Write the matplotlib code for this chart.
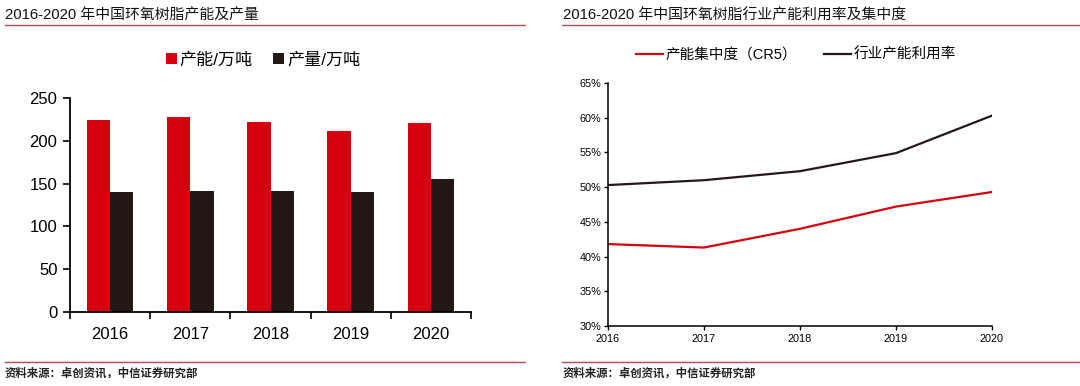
import matplotlib
matplotlib.use("Agg")
import matplotlib.pyplot as plt
from matplotlib.lines import Line2D
from matplotlib.patches import Patch
from matplotlib.ticker import FuncFormatter
import numpy as np

plt.rcParams['font.family'] = ['Liberation Sans', 'Noto Sans CJK SC', 'DejaVu Sans']

# ---- data ----
years = ['2016', '2017', '2018', '2019', '2020']
capacity = [224.5, 227.8, 222.0, 211.4, 220.4]      # 产能/万吨
output = [140.2, 141.4, 141.4, 140.2, 155.0]        # 产量/万吨

line_years = [2016, 2017, 2018, 2019, 2020]
cr5 = [41.8, 41.3, 44.0, 47.2, 49.3]                # 产能集中度（CR5） %
utilization = [50.3, 51.0, 52.3, 54.9, 60.3]        # 行业产能利用率 %

title_left = '2016-2020 年中国环氧树脂产能及产量'
title_right = '2016-2020 年中国环氧树脂行业产能利用率及集中度'
source = '资料来源：卓创资讯，中信证券研究部'
leg_left = ['产能/万吨', '产量/万吨']
leg_right = ['产能集中度（CR5）', '行业产能利用率']

RED = '#D7000F'
DARK = '#231815'
RULE = '#B5495B'

W, H = 1080, 386
fig = plt.figure(figsize=(W / 100, H / 100), dpi=100)

def fx(px):
    return px / W

def fy(py):
    return 1 - py / H

# ---- titles and rules ----
fig.text(fx(5), fy(16), title_left, fontsize=10.7, va='center', ha='left', color='#111111')
fig.text(fx(563), fy(16), title_right, fontsize=10.7, va='center', ha='left', color='#111111')
for x0, x1 in [(5, 525), (562, 1080)]:
    fig.add_artist(Line2D([fx(x0), fx(x1)], [fy(24.5), fy(24.5)], color=RULE, lw=1.0))
    fig.add_artist(Line2D([fx(x0), fx(x1)], [fy(362), fy(362)], color=RULE, lw=1.0))
fig.text(fx(5), fy(373), source, fontsize=8.2, va='center', ha='left', color='#222222', fontweight='bold')
fig.text(fx(563), fy(373), source, fontsize=8.2, va='center', ha='left', color='#222222', fontweight='bold')

# ---- left: bar chart ----
ax1 = fig.add_axes([fx(70), fy(312), fx(471) - fx(70), fy(98) - fy(312)])
x = np.arange(len(years))
bw = 0.29
ax1.bar(x - bw / 2, capacity, bw, color=RED, label=leg_left[0])
ax1.bar(x + bw / 2, output, bw, color=DARK, label=leg_left[1])
ax1.set_xlim(-0.5, len(years) - 0.5)
ax1.set_ylim(0, 250)
ax1.set_yticks([0, 50, 100, 150, 200, 250])
ax1.set_xticks(np.arange(-0.5, len(years), 1.0))
ax1.set_xticklabels([])
ax1.set_xticks(x, minor=True)
ax1.set_xticklabels(years, minor=True)
ax1.tick_params(axis='x', which='major', direction='out', length=5, width=1.2, color='black')
ax1.tick_params(axis='x', which='minor', length=0, labelsize=12, pad=11)
ax1.tick_params(axis='y', direction='out', length=5, width=1.2, labelsize=12, pad=4)
for s in ['top', 'right']:
    ax1.spines[s].set_visible(False)
for s in ['left', 'bottom']:
    ax1.spines[s].set_linewidth(1.3)
    ax1.spines[s].set_color('black')

handles1 = [Patch(facecolor=RED, edgecolor='none'), Patch(facecolor=DARK, edgecolor='none')]
fig.legend(handles1, leg_left, loc='center', bbox_to_anchor=(fx(263), fy(60)), ncol=2,
           frameon=False, fontsize=12.3, handlelength=0.65, handleheight=0.65,
           handletextpad=0.15, columnspacing=1.2, borderpad=0, borderaxespad=0)

# ---- right: line chart ----
ax2 = fig.add_axes([fx(608), fy(326), fx(992) - fx(608), fy(83) - fy(326)])
ax2.plot(line_years, cr5, color=RED, lw=1.6, label=leg_right[0])
ax2.plot(line_years, utilization, color=DARK, lw=1.6, label=leg_right[1])
ax2.set_xlim(2016, 2020)
ax2.set_ylim(30, 65)
ax2.set_xticks(line_years)
ax2.set_xticklabels([str(v) for v in line_years])
ax2.set_yticks(np.arange(30, 66, 5))
ax2.yaxis.set_major_formatter(FuncFormatter(lambda v, p: f'{v:.0f}%'))
ax2.tick_params(axis='both', direction='out', length=3, width=1.0, labelsize=7.8, colors='black')
ax2.tick_params(axis='y', pad=2)
ax2.tick_params(axis='x', pad=3)
for s in ['top', 'right']:
    ax2.spines[s].set_visible(False)
for s in ['left', 'bottom']:
    ax2.spines[s].set_linewidth(1.1)
    ax2.spines[s].set_color('black')

handles2 = [Line2D([], [], color=RED, lw=1.6), Line2D([], [], color=DARK, lw=1.6)]
fig.legend(handles2, leg_right, loc='center', bbox_to_anchor=(fx(796), fy(55)), ncol=2,
           frameon=False, fontsize=10.5, handlelength=1.85, handletextpad=0.2,
           columnspacing=1.8, borderpad=0, borderaxespad=0)

fig.savefig('out.png', dpi=100)
